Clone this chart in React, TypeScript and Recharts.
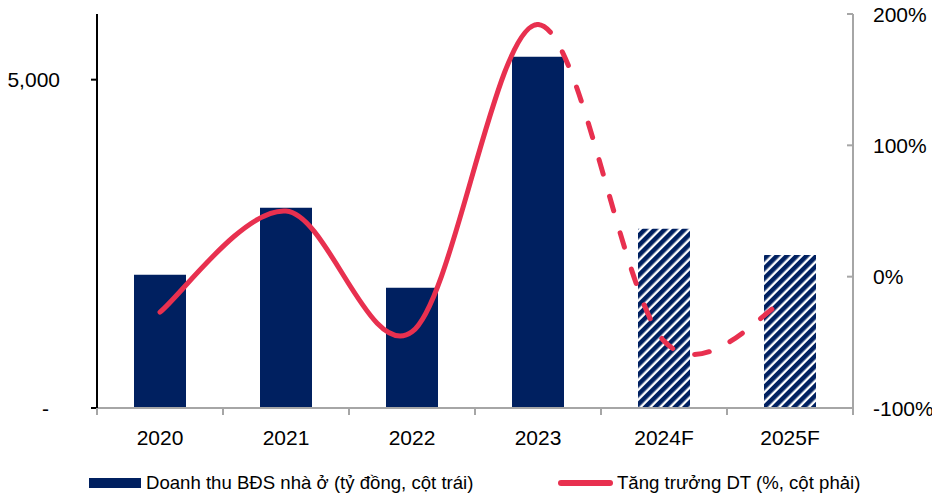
import { ComposedChart, Bar, Line, XAxis, YAxis, Cell, Legend } from 'recharts';

const years = ['2020', '2021', '2022', '2023', '2024F', '2025F'];
const revenue = [2030, 3050, 1830, 5350, 2730, 2330];
const growth = [-27, 50, -42, 192, -49, -15];
const forecast = [false, false, false, false, true, true];
const leftTicks = [0, 5000];
const rightTicks = [-100, 0, 100, 200];

const NAVY = '#002060';
const RED = '#E8304F';
const GRAY = '#A6A6A6';
const FONT = '"Liberation Sans", Arial, sans-serif';

// solid part runs to 2023, dashed part from 2023; each keeps one extra
// neighbour only to shape the tangent (like Excel's smoothed line)
const data = years.map((year, i) => ({
  year,
  revenue: revenue[i],
  solid: i <= 4 ? growth[i] : null,
  dashed: i >= 2 ? growth[i] : null,
}));

// Catmull-Rom style smoothing; skipStart/skipEnd drop the outer segments
const smooth = (skipStart: number, skipEnd: number) => (context: any) => {
  let pts: number[][] = [];
  return {
    areaStart() {},
    areaEnd() {},
    lineStart() {
      pts = [];
    },
    point(x: number, y: number) {
      pts.push([+x, +y]);
    },
    lineEnd() {
      const from = skipStart;
      const to = pts.length - 1 - skipEnd;
      if (to <= from) return;
      context.moveTo(pts[from][0], pts[from][1]);
      for (let i = from; i < to; i++) {
        const p0 = pts[i - 1] || pts[i];
        const p1 = pts[i];
        const p2 = pts[i + 1];
        const p3 = pts[i + 2] || p2;
        context.bezierCurveTo(
          p1[0] + (p2[0] - p0[0]) / 6,
          p1[1] + (p2[1] - p0[1]) / 6,
          p2[0] - (p3[0] - p1[0]) / 6,
          p2[1] - (p3[1] - p1[1]) / 6,
          p2[0],
          p2[1]
        );
      }
    },
  };
};

const XTick = (props: any) => {
  const { x, y, payload, index } = props;
  const half = 63;
  return (
    <g>
      <line x1={x - half} y1={y} x2={x - half} y2={y + 7} stroke={GRAY} strokeWidth={2} />
      {index === years.length - 1 && (
        <line x1={x + half} y1={y} x2={x + half} y2={y + 7} stroke={GRAY} strokeWidth={2} />
      )}
      <text x={x} y={y + 29} textAnchor="middle" dominantBaseline="central" fontSize={21} fontFamily={FONT} fill="#000">
        {payload.value}
      </text>
    </g>
  );
};

const LeftTick = (props: any) => {
  const { x, y, payload } = props;
  const label = payload.value === 0 ? '-' : payload.value.toLocaleString('en-US');
  return (
    <text x={payload.value === 0 ? x - 11 : x} y={y} textAnchor="end" dominantBaseline="central" fontSize={21} fontFamily={FONT} fill="#000">
      {label}
    </text>
  );
};

const RightTick = (props: any) => {
  const { x, y, payload } = props;
  return (
    <g>
      <line x1={x - 26} y1={y} x2={x - 20} y2={y} stroke={GRAY} strokeWidth={2} />
      <text x={x} y={y} textAnchor="start" dominantBaseline="central" fontSize={21} fontFamily={FONT} fill="#000">
        {payload.value + '%'}
      </text>
    </g>
  );
};

const LegendContent = () => (
  <div style={{ position: 'relative', height: 26, fontFamily: FONT, fontSize: 18.6, color: '#000' }}>
    <div style={{ position: 'absolute', left: 89, top: 8, width: 52, height: 10, background: NAVY }} />
    <div style={{ position: 'absolute', left: 146, top: 0, lineHeight: '26px', whiteSpace: 'nowrap' }}>
      Doanh thu BĐS nhà ở (tỷ đồng, cột trái)
    </div>
    <div style={{ position: 'absolute', left: 558, top: 10, width: 55, height: 6, borderRadius: 3, background: RED }} />
    <div style={{ position: 'absolute', left: 617, top: 0, lineHeight: '26px', whiteSpace: 'nowrap' }}>
      Tăng trưởng DT (%, cột phải)
    </div>
  </div>
);

export default function App() {
  return (
    <div style={{ position: 'absolute', left: 0, top: 0, width: 932, height: 494, background: '#fff' }}>
      <ComposedChart width={932} height={494} data={data} margin={{ top: 14, right: 0, bottom: 46, left: 0 }}>
        <defs>
          <pattern id="hatch" patternUnits="userSpaceOnUse" width="7" height="7" patternTransform="rotate(45)">
            <rect x="0" y="0" width="7" height="7" fill="#fff" />
            <rect x="0" y="0" width="4.6" height="7" fill={NAVY} />
          </pattern>
        </defs>
        <XAxis
          dataKey="year"
          height={40}
          axisLine={{ stroke: GRAY, strokeWidth: 2 }}
          tickLine={false}
          tickSize={0}
          tickMargin={0}
          tick={<XTick />}
          interval={0}
        />
        <YAxis
          yAxisId="left"
          orientation="left"
          width={97}
          domain={[0, 6000]}
          ticks={leftTicks}
          axisLine={{ stroke: '#000', strokeWidth: 2 }}
          tickLine={{ stroke: '#000', strokeWidth: 2 }}
          tickSize={6}
          tickMargin={31}
          tick={<LeftTick />}
        />
        <YAxis
          yAxisId="right"
          orientation="right"
          width={79}
          domain={[-100, 200]}
          ticks={rightTicks}
          axisLine={{ stroke: GRAY, strokeWidth: 2 }}
          tickLine={false}
          tickSize={0}
          tickMargin={20}
          tick={<RightTick />}
        />
        <Bar yAxisId="left" dataKey="revenue" barSize={52} isAnimationActive={false}>
          {data.map((d, i) => (
            <Cell key={d.year} fill={forecast[i] ? 'url(#hatch)' : NAVY} />
          ))}
        </Bar>
        <Line
          yAxisId="right"
          dataKey="solid"
          type={smooth(0, 1) as any}
          stroke={RED}
          strokeWidth={5}
          strokeLinecap="round"
          dot={false}
          activeDot={false}
          isAnimationActive={false}
        />
        <Line
          yAxisId="right"
          dataKey="dashed"
          type={smooth(1, 0) as any}
          stroke={RED}
          strokeWidth={5}
          strokeLinecap="round"
          strokeDasharray="15 23"
          dot={false}
          activeDot={false}
          isAnimationActive={false}
        />
        <Legend
          verticalAlign="middle"
          align="center"
          layout="horizontal"
          wrapperStyle={{ top: 470, left: 0, width: 932 }}
          content={<LegendContent />}
        />
      </ComposedChart>
    </div>
  );
}
